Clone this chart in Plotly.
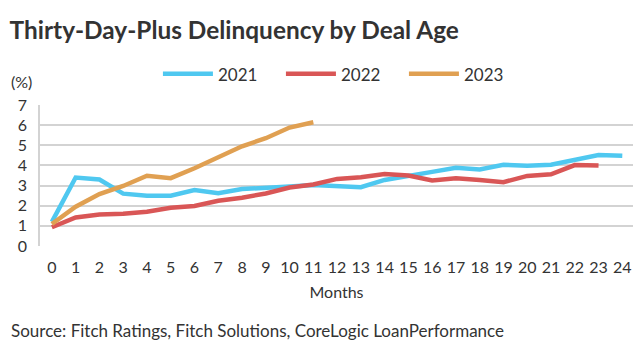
import plotly.graph_objects as go

months = list(range(25))
s2021 = [1.2, 3.4, 3.3, 2.6, 2.5, 2.5, 2.78, 2.62, 2.83, 2.87, 2.95, 3.03, 2.98, 2.92, 3.28, 3.5, 3.68, 3.88, 3.8, 4.03, 3.98, 4.03, 4.3, 4.52, 4.48]
s2022 = [0.93, 1.42, 1.56, 1.6, 1.7, 1.9, 1.99, 2.25, 2.4, 2.61, 2.9, 3.05, 3.33, 3.41, 3.57, 3.5, 3.25, 3.36, 3.28, 3.17, 3.48, 3.56, 4.02, 4.0]
s2023 = [1.09, 1.95, 2.58, 2.98, 3.49, 3.37, 3.86, 4.4, 4.95, 5.35, 5.88, 6.14]
series = [("2021", s2021, "#4FC8F0"), ("2022", s2022, "#D95656"), ("2023", s2023, "#E0A052")]

font = "Lato, 'Open Sans', sans-serif"
fig = go.Figure()
for name, vals, col in series:
    fig.add_trace(go.Scatter(x=months[:len(vals)], y=vals, name=name, mode="lines",
                             line=dict(color=col, width=4.5)))

fig.update_layout(
    width=640, height=353,
    margin=dict(l=40, r=7, t=105, b=107),
    paper_bgcolor="white", plot_bgcolor="white",
    font=dict(family=font, color="#333333", size=16),
    title=dict(text="<b>Thirty-Day-Plus Delinquency by Deal Age</b>", x=0.015, xanchor="left",
               y=0.915, yanchor="middle", font=dict(size=24.4, color="#333333")),
    legend=dict(orientation="h", x=0.51, xanchor="center", y=1.09, yanchor="bottom",
                font=dict(size=17), entrywidth=58, itemwidth=50),
    showlegend=True,
)
fig.update_xaxes(range=[-0.5, 24.45], tickmode="array", tickvals=months, ticktext=[str(m) for m in months],
                 showgrid=False, zeroline=False, showline=False, ticks="",
                 title=dict(text="Months", font=dict(size=16), standoff=11), tickfont=dict(size=16),
                 ticklabelstandoff=10)
fig.update_yaxes(range=[0, 7], dtick=1, showgrid=True, gridcolor="#D3D3D3", gridwidth=1.5,
                 zeroline=False, showline=True, linecolor="#D3D3D3", linewidth=1.5, ticks="",
                 tickfont=dict(size=16), ticklabelstandoff=8)
fig.add_annotation(text="(%)", xref="paper", yref="paper", x=-0.052, y=1.165, xanchor="left",
                   yanchor="middle", showarrow=False, font=dict(size=16))
fig.add_annotation(text="Source: Fitch Ratings, Fitch Solutions, CoreLogic LoanPerformance",
                   xref="paper", yref="paper", x=-0.052, y=-0.6, xanchor="left", yanchor="middle",
                   showarrow=False, font=dict(size=17))
fig.write_html("out.html")
